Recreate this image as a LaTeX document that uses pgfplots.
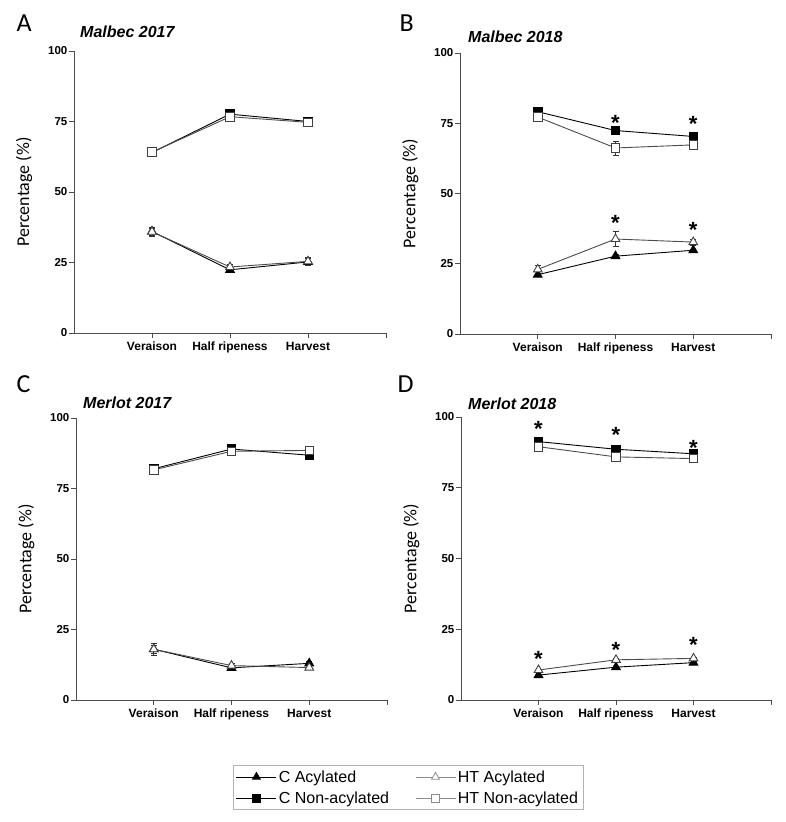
\documentclass[border=0pt]{standalone}
\usepackage{pgfplots}
\pgfplotsset{compat=1.18}
\usepackage{fontspec}
\setmainfont{Liberation Sans}
\newfontfamily\calfont{Carlito}
\pgfplotsset{
 panel/.style={scale only axis, width=311pt, height=282pt,
  xmin=0, xmax=4, ymin=0, ymax=100,
  axis lines*=left,
  axis line style={black!70, line width=0.8pt},
  ytick={0,25,50,75,100},
  xtick={1,2,3,4}, xticklabels={Veraison,Half ripeness,Harvest,{}},
  tick align=outside, major tick length=5pt,
  tick style={black!70, line width=0.8pt},
  x tick label style={font=\bfseries\fontsize{12}{12}\selectfont, text height=9pt, text depth=2.5pt},
  y tick label style={font=\bfseries\fontsize{11.5}{11.5}\selectfont, inner sep=1.5pt},
  /pgf/number format/assume math mode=true,
  ylabel={Percentage (\%)},
  ylabel style={at={(axis description cs:-0.16,0.5)}, anchor=center, font=\calfont\fontsize{18}{18}\selectfont},
  clip=false},
 ebar/.style={error bars/.cd, y dir=both, y explicit,
   error bar style={black!80, line width=0.7pt},
   error mark options={rotate=90, mark size=3pt, black!80, line width=0.7pt}},
 cA/.style={black, line width=0.9pt, mark=triangle*, mark size=5pt, mark options={fill=black, draw=black, solid}, ebar},
 hA/.style={black!70, line width=0.9pt, mark=triangle*, mark size=5pt, mark options={fill=white, draw=black!75, solid}, ebar},
 cN/.style={black, line width=0.9pt, mark=square*, mark size=4.3pt, mark options={fill=black, draw=black, solid}, ebar},
 hN/.style={black!70, line width=0.9pt, mark=square*, mark size=4.3pt, mark options={fill=white, draw=black!75, solid}, ebar},
 stars/.style={only marks, mark=text, text mark={\bfseries *}, text mark as node=true,
   text mark style={font=\fontsize{22}{22}\selectfont, yshift=-3.5pt, inner sep=0pt}},
}
\begin{document}
\begin{tikzpicture}[x=1pt,y=1pt]
\path[use as bounding box] (0,0) rectangle (786,822);

% Panel A
\begin{axis}[panel, at={(74pt,489pt)}, anchor=south west, width=312pt]
\addplot[cN] table[y error=e]{
x y e
1 64.0 1.0
2 77.6 0.8
3 75.0 1.0
};
\addplot[hN] table[y error=e]{
x y e
1 64.1 1.2
2 76.7 1.0
3 74.7 1.2
};
\addplot[cA] table[y error=e]{
x y e
1 36.0 1.2
2 22.4 0.8
3 25.2 1.2
};
\addplot[hA] table[y error=e]{
x y e
1 35.9 1.6
2 23.4 1.0
3 25.4 1.5
};
\end{axis}

% Panel B
\begin{axis}[panel, at={(460pt,488pt)}, anchor=south west, height=281pt]
\addplot[cN] table[y error=e]{
x y e
1 79.1 0.5
2 72.4 0.5
3 70.3 0.5
};
\addplot[hN] table[y error=e]{
x y e
1 77.2 1.0
2 66.2 2.5
3 67.3 0.8
};
\addplot[cA] table[y error=e]{
x y e
1 21.1 0.5
2 27.7 0.7
3 29.8 0.5
};
\addplot[hA] table[y error=e]{
x y e
1 23.0 1.5
2 33.8 2.6
3 32.7 1.0
};
\addplot[stars] coordinates {(2,76.4) (3,75.9) (2,40.9) (3,38.2)};
\end{axis}

% Panel C
\begin{axis}[panel, at={(76pt,122pt)}, anchor=south west]
\addplot[cN] table[y error=e]{
x y e
1 82.0 1.0
2 89.0 0.5
3 86.8 0.5
};
\addplot[hN] table[y error=e]{
x y e
1 81.6 1.5
2 88.2 0.8
3 88.5 0.7
};
\addplot[cA] table[y error=e]{
x y e
1 18.0 1.5
2 11.4 0.5
3 13.0 0.6
};
\addplot[hA] table[y error=e]{
x y e
1 18.0 2.0
2 12.2 0.7
3 11.5 0.7
};
\end{axis}

% Panel D
\begin{axis}[panel, at={(461pt,122pt)}, anchor=south west, width=310pt, height=283pt]
\addplot[cN] table[y error=e]{
x y e
1 91.3 0.4
2 88.6 0.4
3 87.0 0.4
};
\addplot[hN] table[y error=e]{
x y e
1 89.5 0.4
2 85.9 0.4
3 85.3 0.4
};
\addplot[cA] table[y error=e]{
x y e
1 8.8 0.4
2 11.6 0.4
3 13.2 0.4
};
\addplot[hA] table[y error=e]{
x y e
1 10.6 0.4
2 14.2 0.5
3 14.7 0.4
};
\addplot[stars] coordinates {(1,97.1) (2,95.0) (3,90.4) (1,15.9) (2,19.1) (3,20.6)};
\end{axis}

% Legend
\begin{axis}[hide axis, scale only axis, width=10pt, height=10pt, at={(408pt,34.5pt)}, anchor=center,
  xmin=0, xmax=1, ymin=0, ymax=1,
  legend columns=2,
  legend style={at={(0.5,0.5)}, anchor=center, draw=black!30, line width=0.6pt,
    font=\fontsize{16}{16}\selectfont, inner xsep=3pt, inner ysep=3pt, row sep=4pt,
    /tikz/every even column/.append style={column sep=24pt}},
  legend cell align=left,
  legend image code/.code={\draw[mark repeat=2, mark phase=2] plot coordinates {(0pt,0pt) (20pt,0pt) (40pt,0pt)};}]
\addlegendimage{black, line width=0.8pt, mark=triangle*, mark size=4.5pt, mark options={fill=black, solid}}
\addlegendentry{C Acylated}
\addlegendimage{black!45, line width=0.8pt, mark=triangle*, mark size=4.5pt, mark options={fill=white, draw=black!45, solid}}
\addlegendentry{HT Acylated}
\addlegendimage{black, line width=0.8pt, mark=square*, mark size=4pt, mark options={fill=black, solid}}
\addlegendentry{C Non-acylated}
\addlegendimage{black!45, line width=0.8pt, mark=square*, mark size=4pt, mark options={fill=white, draw=black!45, solid}}
\addlegendentry{HT Non-acylated}
\end{axis}

% Panel letters and titles
\node[anchor=west, font=\calfont\fontsize{26}{26}\selectfont] at (13,799) {A};
\node[anchor=west, font=\calfont\fontsize{26}{26}\selectfont] at (396,799) {B};
\node[anchor=west, font=\calfont\fontsize{26}{26}\selectfont] at (13,438) {C};
\node[anchor=west, font=\calfont\fontsize{26}{26}\selectfont] at (394,438) {D};
\node[anchor=west, inner sep=0pt, font=\bfseries\itshape\fontsize{16}{16}\selectfont] at (80,790) {Malbec 2017};
\node[anchor=west, inner sep=0pt, font=\bfseries\itshape\fontsize{16}{16}\selectfont] at (468,785) {Malbec 2018};
\node[anchor=west, inner sep=0pt, font=\bfseries\itshape\fontsize{16}{16}\selectfont] at (83,419) {Merlot 2017};
\node[anchor=west, inner sep=0pt, font=\bfseries\itshape\fontsize{16}{16}\selectfont] at (468,418) {Merlot 2018};
\end{tikzpicture}
\end{document}
